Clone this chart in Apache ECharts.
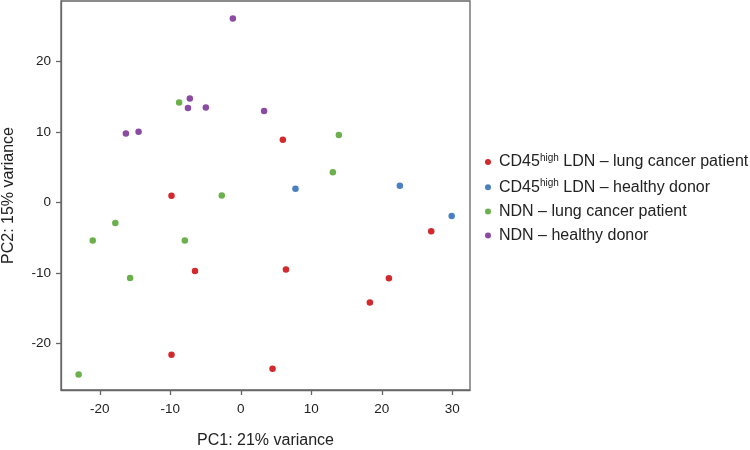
<!DOCTYPE html>
<html>
<head>
<meta charset="utf-8">
<script src="https://cdn.jsdelivr.net/npm/echarts@6/dist/echarts.min.js"></script>
<style>html,body{margin:0;padding:0;background:#fff}#c{width:750px;height:450px}</style>
</head>
<body>
<div id="c"></div>
<script>
// Series data: [PC1, PC2]
const ldnPatient = [[5.96,8.9],[-9.83,0.95],[27.0,-4.07],[-6.5,-9.7],[6.4,-9.5],[21.0,-10.75],[18.3,-14.2],[-9.83,-21.6],[4.5,-23.6]];
const ldnHealthy = [[7.75,1.95],[22.55,2.4],[29.9,-1.9]];
const ndnPatient = [[-8.75,14.2],[13.9,9.6],[13.05,4.3],[-2.7,1.0],[-17.8,-2.9],[-21.0,-5.4],[-7.94,-5.4],[-15.7,-10.7],[-23.0,-24.4]];
const ndnHealthy = [[-1.13,26.1],[-7.23,14.75],[-7.5,13.4],[-4.96,13.5],[3.3,13.0],[-16.3,9.8],[-14.5,10.05]];

const seriesNames = ['CD45high LDN – lung cancer patient','CD45high LDN – healthy donor','NDN – lung cancer patient','NDN – healthy donor'];
const seriesData = [ldnPatient, ldnHealthy, ndnPatient, ndnHealthy];
const seriesColors = ['#d2292c','#4a7fc1','#6bb04d','#8c4ba2'];
const xTicks = [-20,-10,0,10,20,30];
const yTicks = [-20,-10,0,10,20];
const xTitle = 'PC1: 21% variance';
const yTitle = 'PC2: 15% variance';

const chart = echarts.init(document.getElementById('c'), null, {renderer:'canvas'});
const font = '"Liberation Sans", Arial, Helvetica, sans-serif';
chart.setOption({
  animation: false,
  backgroundColor: '#fff',
  textStyle: {fontFamily: font},
  grid: {left: 61, top: 1, right: 280, bottom: 60, containLabel: false, outerBoundsMode: 'none', show: true, borderColor: '#666', borderWidth: 1.3, backgroundColor: '#fff'},
  legend: {
    orient: 'vertical', left: 480, top: 148, itemWidth: 12, itemHeight: 6, itemGap: 8.2, icon: 'circle',
    data: seriesNames,
    formatter: function (name) {
      if (name.indexOf('CD45high') === 0) {
        return '{n|CD45}{s|high}{n|' + name.slice(8) + '}';
      }
      return '{n|' + name + '}';
    },
    textStyle: {
      fontFamily: font, fontSize: 16, color: '#222',
      rich: {
        n: {fontFamily: font, fontSize: 16, color: '#222', lineHeight: 18},
        s: {fontFamily: font, fontSize: 10, color: '#222', lineHeight: 12, verticalAlign: 'top'}
      }
    }
  },
  xAxis: {
    type: 'value', min: -25.5, max: 32.5,
    name: xTitle, nameLocation: 'middle', nameGap: 43,
    nameTextStyle: {fontFamily: font, fontSize: 16, color: '#222'},
    axisLine: {show: true, onZero: false, lineStyle: {color: '#666', width: 1.3}},
    axisTick: {show: true, length: 5, customValues: xTicks, lineStyle: {color: '#666', width: 1.3}},
    axisLabel: {customValues: xTicks, fontFamily: font, fontSize: 13.5, color: '#222', margin: 12},
    splitLine: {show: false}
  },
  yAxis: {
    type: 'value', min: -26.6, max: 28.6,
    name: yTitle, nameLocation: 'middle', nameGap: 44,
    nameTextStyle: {fontFamily: font, fontSize: 16, color: '#222'},
    axisLine: {show: true, onZero: false, lineStyle: {color: '#666', width: 1.3}},
    axisTick: {show: true, length: 5, customValues: yTicks, lineStyle: {color: '#666', width: 1.3}},
    axisLabel: {customValues: yTicks, fontFamily: font, fontSize: 13.5, color: '#222', margin: 10},
    splitLine: {show: false}
  },
  series: seriesNames.map((n, i) => ({
    name: n, type: 'scatter', data: seriesData[i], symbolSize: 6.5,
    itemStyle: {color: seriesColors[i], opacity: 1}
  }))
});
</script>
</body>
</html>
